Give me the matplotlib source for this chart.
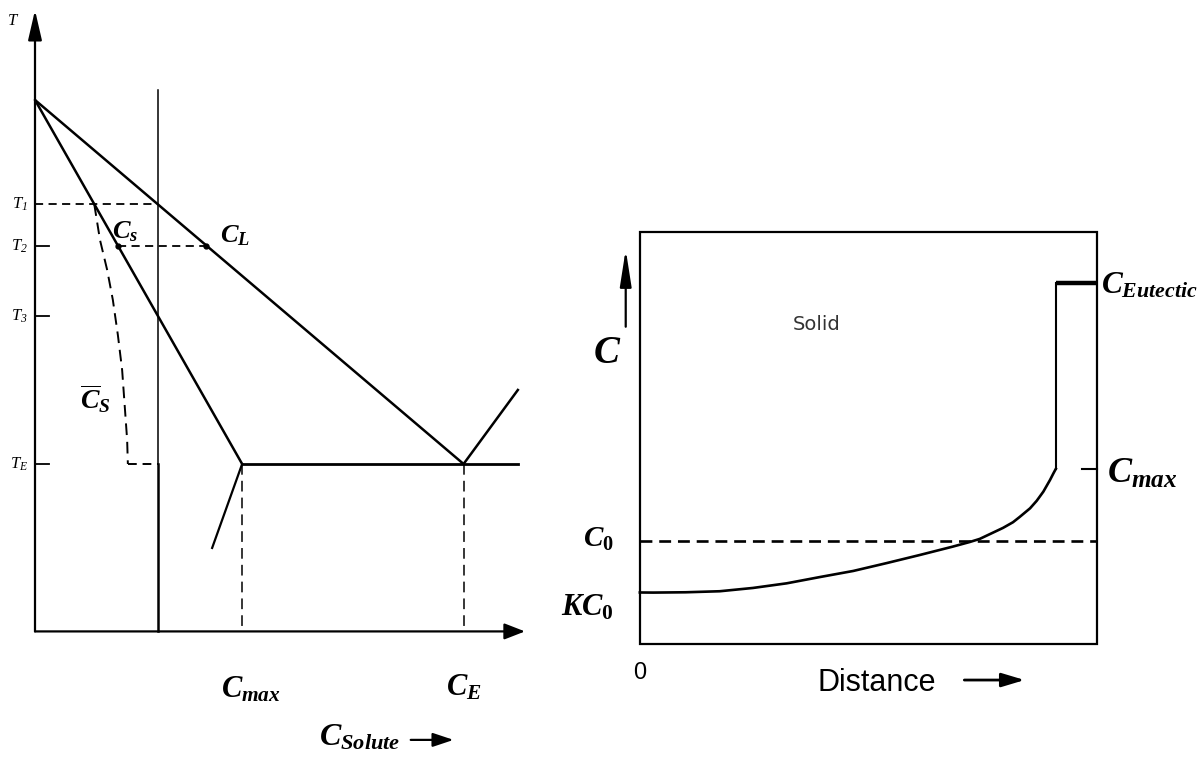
import matplotlib
matplotlib.use("Agg")
import matplotlib.pyplot as plt
from matplotlib.patches import Rectangle

plt.rcParams["mathtext.fontset"] = "custom"
plt.rcParams["mathtext.it"] = "Liberation Serif:bold:italic"
plt.rcParams["mathtext.rm"] = "Liberation Serif:bold"
plt.rcParams["mathtext.bf"] = "Liberation Serif:bold"
plt.rcParams["mathtext.sf"] = "Liberation Serif:italic"

# ---------------- phase diagram (composition %, temperature) ----------------
T_MELT = 330          # melting point of the pure solvent
T_E = 180             # eutectic temperature
C_E = 60              # eutectic composition
C_MAX = 29            # maximum solid solubility
C_0 = 17.2            # alloy composition
T_LEVELS = [287, 270, 241, 180]
T_NAMES = ["1", "2", "3", "E"]
T_AXIS_MIN = 111
T_AXIS_TOP = 367
C_AXIS_END = 68.6
C0_LINE_TOP = 334
SOLVUS_END = [24.8, 145.4]
LIQUIDUS_RIGHT_END = [67.6, 210.5]
EUTECTIC_LINE_END = 67.6
# mean solid composition under non-equilibrium cooling
CS_MEAN_C = [8.3, 9.1, 10.1, 10.9, 11.6, 12.2, 12.6, 12.9, 13.0]
CS_MEAN_T = [287, 272.3, 260, 247.6, 233.2, 218.7, 202.3, 189.9, 180]

# ---------------- segregation profile (distance, concentration / C0) --------
DIST = [0, 0.032, 0.11, 0.192, 0.272, 0.353, 0.433, 0.513, 0.594, 0.673,
        0.752, 0.793, 0.817, 0.873, 0.897, 0.913, 0.938, 0.954, 0.970,
        0.986, 0.994, 1.0]
CONC = [0.5, 0.499, 0.502, 0.512, 0.544, 0.589, 0.650, 0.709, 0.786, 0.864,
        0.945, 0.990, 1.020, 1.127, 1.182, 1.233, 1.317, 1.390, 1.479,
        1.592, 1.655, 1.70]
KC0 = 0.5
C0_R = 1.0
CMAX_R = 1.7
CEUT_R = 3.5
BOX_TOP = 4.0
BOX_RIGHT = 1.1

fig = plt.figure(figsize=(12.01, 7.61), dpi=100)
fig.patch.set_facecolor("white")

# =============================== left panel =================================
axL = fig.add_axes([0, 0, 560 / 1201, 1])
axL.set_xlim(-4.9, 73.5)
axL.set_ylim(57.6, 371.2)
axL.axis("off")

k = "black"
arrow_kw = dict(color=k, lw=1.6, shrinkA=0, shrinkB=0)
# axes with arrows
axL.annotate("", xy=(0, T_AXIS_TOP), xytext=(0, T_AXIS_MIN),
             arrowprops=dict(arrowstyle="-|>,head_length=1.3,head_width=0.3",
                             mutation_scale=14, **arrow_kw))
axL.annotate("", xy=(C_AXIS_END, T_AXIS_MIN), xytext=(0, T_AXIS_MIN),
             arrowprops=dict(arrowstyle="-|>,head_length=0.9,head_width=0.35",
                             mutation_scale=14, **arrow_kw))

# liquidus and solidus
axL.plot([0, C_E], [T_MELT, T_E], color=k, lw=1.8, solid_capstyle="round")
axL.plot([0, C_MAX], [T_MELT, T_E], color=k, lw=1.8, solid_capstyle="round")
axL.plot([C_MAX, SOLVUS_END[0]], [T_E, SOLVUS_END[1]], color=k, lw=1.6)
axL.plot([C_MAX, EUTECTIC_LINE_END], [T_E, T_E], color=k, lw=2.0)
axL.plot([C_E, LIQUIDUS_RIGHT_END[0]], [T_E, LIQUIDUS_RIGHT_END[1]], color=k, lw=1.8)

# alloy composition line
axL.plot([C_0, C_0], [C0_LINE_TOP, T_E], color=k, lw=1.1)
axL.plot([C_0, C_0], [T_E, T_AXIS_MIN], color=k, lw=1.8)

# temperature marks
axL.plot([0, C_0], [T_LEVELS[0], T_LEVELS[0]], color=k, lw=1.3, dashes=(4.5, 3))
for t in T_LEVELS[1:]:
    axL.plot([0, 1.9], [t, t], color=k, lw=1.3)

# tie line at T2
slope_s = (T_MELT - T_E) / C_MAX
slope_l = (T_MELT - T_E) / C_E
cs2 = (T_MELT - T_LEVELS[1]) / slope_s
cl2 = (T_MELT - T_LEVELS[1]) / slope_l
axL.plot([cs2, cl2], [T_LEVELS[1], T_LEVELS[1]], color=k, lw=1.3, dashes=(4.5, 3))
axL.plot([cs2, cl2], [T_LEVELS[1], T_LEVELS[1]], "o", color=k, ms=3.5)

# mean solid composition
axL.plot(CS_MEAN_C, CS_MEAN_T, color=k, lw=1.4, dashes=(6, 3.5))
axL.plot([CS_MEAN_C[-1], C_0], [T_E, T_E], color=k, lw=1.4, dashes=(4.5, 3))

# composition guides
axL.plot([C_MAX, C_MAX], [T_E, T_AXIS_MIN], color=k, lw=1.1, dashes=(7, 4))
axL.plot([C_E, C_E], [T_E, T_AXIS_MIN], color=k, lw=1.1, dashes=(7, 4))

# labels
axL.text(-3.1, 363, r"$\mathsf{T}$", fontsize=12, ha="center", va="center")
for t, nm in zip(T_LEVELS, T_NAMES):
    axL.text(-1.0, t, r"$\mathsf{T}_\mathsf{%s}$" % nm, fontsize=12,
             ha="right", va="center")
axL.text(10.8, 276, r"$C_s$", fontsize=19, ha="left", va="center")
axL.text(25.9, 274, r"$C_L$", fontsize=19, ha="left", va="center")
axL.text(6.3, 207, r"$\overline{C}_S$", fontsize=20, ha="left", va="center")
axL.text(26.0, 87, r"$C_{max}$", fontsize=22, ha="left", va="center")
axL.text(57.5, 88, r"$C_E$", fontsize=22, ha="left", va="center")
axL.text(39.7, 67.5, r"$C_{Solute}$", fontsize=23, ha="left", va="center")
axL.annotate("", xy=(58.6, 66.3), xytext=(52.6, 66.3),
             arrowprops=dict(arrowstyle="-|>,head_length=0.9,head_width=0.3",
                             mutation_scale=14, **arrow_kw))

# =============================== right panel ================================
axR = fig.add_axes([560 / 1201, 0, 641 / 1201, 1])
axR.set_xlim(-0.192, 1.349)
axR.set_ylim(-1.136, 6.252)
axR.axis("off")

axR.add_patch(Rectangle((0, 0), BOX_RIGHT, BOX_TOP, fill=False, ec=k, lw=1.6))
axR.plot(DIST, CONC, color=k, lw=1.9, solid_joinstyle="round")
axR.plot([1.0, 1.0], [CONC[-1], CEUT_R], color=k, lw=1.5)
axR.plot([1.0, BOX_RIGHT], [CEUT_R, CEUT_R], color=k, lw=3.2, solid_capstyle="butt")
axR.plot([0, BOX_RIGHT], [C0_R, C0_R], color=k, lw=1.9, dashes=(4.5, 2.6))
axR.plot([1.0625, BOX_RIGHT], [CMAX_R, CMAX_R], color=k, lw=1.5)

axR.annotate("", xy=(-0.034, 3.83), xytext=(-0.034, 3.08),
             arrowprops=dict(arrowstyle="-|>,head_length=1.6,head_width=0.25",
                             mutation_scale=14, **arrow_kw))
axR.text(-0.078, 2.83, r"$C$", fontsize=28, ha="center", va="center")
axR.text(0.368, 3.10, "Solid", fontsize=14, family="DejaVu Sans",
         color="#333333", ha="left", va="center")
axR.text(1.108, 3.48, r"$C_{Eutectic}$", fontsize=22.5, ha="left", va="center")
axR.text(1.122, 1.66, r"$C_{max}$", fontsize=26, ha="left", va="center")
axR.text(-0.062, 1.02, r"$C_0$", fontsize=21, ha="right", va="center")
axR.text(-0.062, 0.36, r"$KC_0$", fontsize=22, ha="right", va="center")
axR.text(0.0, -0.28, "0", fontsize=17, family="Liberation Sans",
         ha="center", va="center")
axR.text(0.57, -0.38, "Distance", fontsize=22, family="Liberation Sans",
         ha="center", va="center")
axR.annotate("", xy=(0.925, -0.35), xytext=(0.78, -0.35),
             arrowprops=dict(arrowstyle="-|>,head_length=1.0,head_width=0.3",
                             mutation_scale=14, color=k, lw=2.0,
                             shrinkA=0, shrinkB=0))

fig.savefig("out.png", dpi=100, facecolor="white")
